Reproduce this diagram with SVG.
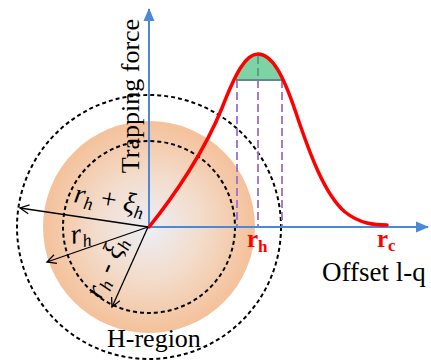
<svg xmlns="http://www.w3.org/2000/svg" width="431" height="363" viewBox="0 0 431 363">
<style>
.dash{fill:none;stroke:#000;stroke-width:2;stroke-dasharray:4 3}
.pur{stroke:#9b6fd0;stroke-width:1.8;stroke-dasharray:8 4;fill:none}
.axis{stroke:#4d88d6;stroke-width:2;fill:none}
.arr{stroke:#000;stroke-width:1.3;fill:none;marker-end:url(#va)}
.t{font-family:"Liberation Serif","Times New Roman",serif;fill:#000}
.it{font-style:italic}
.red{fill:#f00;font-weight:bold}
</style>
<defs>
<radialGradient id="og" cx="149" cy="227" r="106" gradientUnits="userSpaceOnUse">
<stop offset="0" stop-color="#eceef6"/>
<stop offset="0.5" stop-color="#f3dccb"/>
<stop offset="1" stop-color="#f4c19a"/>
</radialGradient>
<marker id="va" markerWidth="12" markerHeight="12" refX="10" refY="6" orient="auto" markerUnits="userSpaceOnUse">
<path d="M1,1.5 L10,6 L1,10.5" fill="none" stroke="#000" stroke-width="1.3"/>
</marker>
<marker id="ba" markerWidth="14" markerHeight="14" refX="12" refY="7" orient="auto" markerUnits="userSpaceOnUse">
<path d="M0,1.5 L13,7 L0,12.5 Z" fill="#4d88d6"/>
</marker>
<clipPath id="under">
<path d="M149,227 C175,195 205,150 222,108 C236,72 246,54 258,54 C272,54 283,75 295,110 C310,155 325,195 345,212 C360,224 375,225 387,225 L387,227 Z"/>
</clipPath>
</defs>
<g id="h-region">
<circle cx="149" cy="227" r="106" fill="url(#og)"/>
<circle class="dash" cx="149" cy="227" r="86"/>
<circle class="dash" cx="149" cy="227" r="132"/>
</g>
<g id="peak">
<line class="pur" x1="237" y1="80" x2="237" y2="227"/>
<line class="pur" x1="258" y1="80" x2="258" y2="227"/>
<line class="pur" x1="282" y1="80" x2="282" y2="227"/>
<rect x="220" y="50" width="80" height="30" fill="#7dd3a6" clip-path="url(#under)"/>
<line x1="258" y1="56" x2="258" y2="80" stroke="#5a9a80" stroke-width="1.8" stroke-dasharray="8 4"/>
<line x1="236" y1="80" x2="283" y2="80" stroke="#5f8a86" stroke-width="2"/>
</g>
<g id="connectors">
<line class="axis" x1="149" y1="227" x2="149" y2="9" marker-end="url(#ba)"/>
<line class="axis" x1="149" y1="227" x2="428" y2="227" marker-end="url(#ba)"/>
<path d="M149,227 C175,195 205,150 222,108 C236,72 246,54 258,54 C272,54 283,75 295,110 C310,155 325,195 345,212 C360,224 375,225 387,225" fill="none" stroke="#f00" stroke-width="3.5" stroke-linecap="round"/>
<line class="arr" x1="148" y1="227" x2="20" y2="208"/>
<line class="arr" x1="148" y1="227" x2="47" y2="262"/>
<line class="arr" x1="148" y1="227" x2="112" y2="307"/>
</g>
<g id="labels">
<text class="t" font-size="26" text-anchor="middle" transform="translate(139,96) rotate(-90)">Trapping force</text>
<text class="t" font-size="27" x="322" y="281">Offset l-q</text>
<text class="t" font-size="26" x="107" y="347">H-region</text>
<text class="t red" font-size="25" x="247" y="247">r<tspan font-size="17" dy="5">h</tspan></text>
<text class="t red" font-size="25" x="377" y="247">r<tspan font-size="17" dy="4">c</tspan></text>
<text class="t it" font-size="28" transform="translate(73,202) rotate(10)">r<tspan font-size="18" dy="5">h</tspan><tspan dy="-5" font-style="normal"> + </tspan>ξ<tspan font-size="18" dy="5">h</tspan></text>
<text class="t it" font-size="28" transform="translate(72,244) rotate(-10)">r<tspan font-size="18" dy="5">h</tspan></text>
<text class="t it" font-size="28" transform="translate(101,300) rotate(-66)">r<tspan font-size="18" dy="5">h</tspan><tspan dy="-5" font-style="normal"> - </tspan>ξ<tspan font-size="18" dy="5">h</tspan></text>
</g>
</svg>
